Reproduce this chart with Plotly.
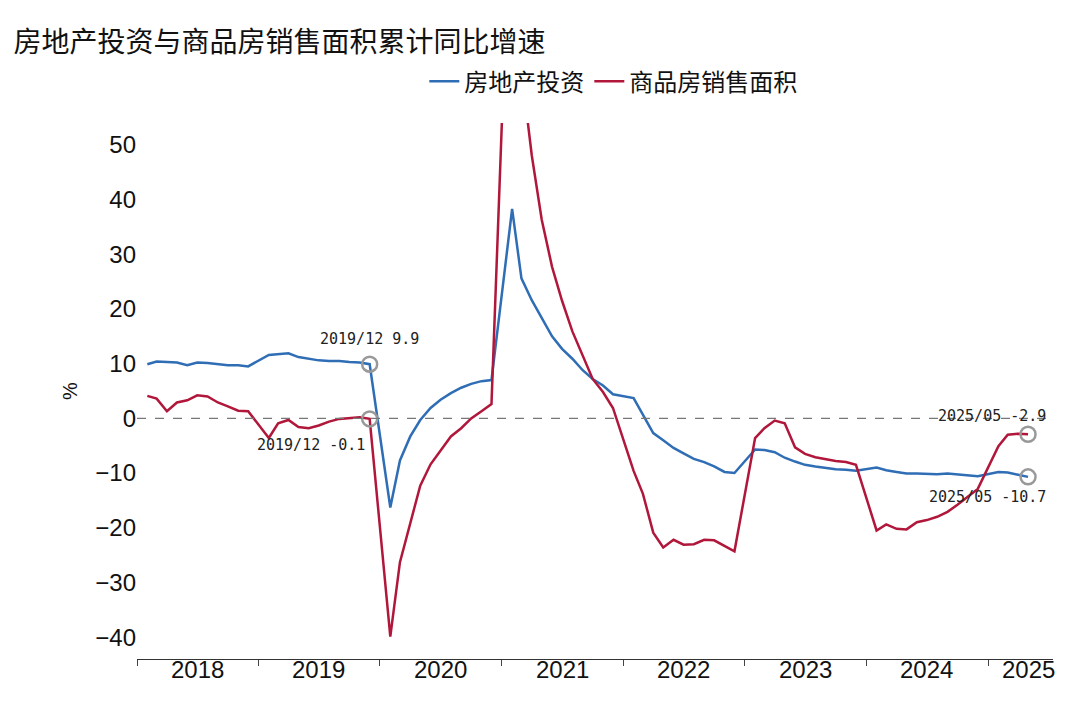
import plotly.graph_objects as go

months = [f"{y}-{m:02d}-01" for y in range(2018, 2026) for m in range(2, 13)][:7*11+4]
invest = [9.9,10.4,10.3,10.2,9.7,10.2,10.1,9.9,9.7,9.7,9.5,
          11.6,11.8,11.9,11.2,10.9,10.6,10.5,10.5,10.3,10.2,9.9,
          -16.3,-7.7,-3.3,-0.3,1.9,3.4,4.6,5.6,6.3,6.8,7.0,
          38.3,25.6,21.6,18.3,15.0,12.7,10.9,8.8,7.2,6.0,4.4,
          3.7,0.7,-2.7,-4.0,-5.4,-6.4,-7.4,-8.0,-8.8,-9.8,-10.0,
          -5.7,-5.8,-6.2,-7.2,-7.9,-8.5,-8.8,-9.1,-9.3,-9.4,-9.6,
          -9.0,-9.5,-9.8,-10.1,-10.1,-10.2,-10.2,-10.1,-10.3,-10.4,-10.6,
          -9.8,-9.9,-10.3,-10.7]
sales = [4.1,3.6,1.3,2.9,3.3,4.2,4.0,2.9,2.2,1.4,1.3,
         -3.6,-0.9,-0.3,-1.6,-1.8,-1.3,-0.6,-0.1,0.1,0.2,-0.1,
         -39.9,-26.3,-19.3,-12.3,-8.4,-5.8,-3.3,-1.8,0.0,1.3,2.6,
         104.9,63.8,48.1,36.3,27.7,21.5,15.9,11.3,7.2,4.8,1.9,
         -9.6,-13.8,-20.9,-23.6,-22.2,-23.1,-23.0,-22.2,-22.3,-23.3,-24.3,
         -3.6,-1.8,-0.4,-0.9,-5.3,-6.5,-7.1,-7.5,-7.8,-8.0,-8.5,
         -20.5,-19.4,-20.2,-20.3,-19.0,-18.6,-18.0,-17.1,-15.8,-14.3,-12.9,
         -5.1,-3.0,-2.8,-2.9]
years = ["2018","2019","2020","2021","2022","2023","2024","2025"]
year_label_pos = ["2018-07-01","2019-07-01","2020-07-01","2021-07-01","2022-07-01","2023-07-01","2024-07-01","2025-05-01"]
marks = [("2019-12-01", 9.9, "2019/12 9.9"), ("2019-12-01", -0.1, "2019/12 -0.1"),
         ("2025-05-01", -2.9, "2025/05 -2.9"), ("2025-05-01", -10.7, "2025/05 -10.7")]

BLUE = "#2f6db5"; RED = "#b0173a"
fig = go.Figure()
fig.add_trace(go.Scatter(x=months, y=invest, mode="lines", name="房地产投资", line=dict(color=BLUE, width=2.5)))
fig.add_trace(go.Scatter(x=months, y=sales, mode="lines", name="商品房销售面积", line=dict(color=RED, width=2.5)))
fig.add_trace(go.Scatter(x=[m[0] for m in marks], y=[m[1] for m in marks], mode="markers", showlegend=False,
                         marker=dict(symbol="circle-open", size=15, color="#999999", line=dict(width=2.5))))
fig.add_hline(y=0, line=dict(color="#777777", width=1.3, dash="dash"))
anno_shift = [(0, 25, "center"), (-3, -26, "right"), (20, 18, "right"), (20, -20, "right")]
for (x, y, t), (dx, dy, al) in zip(marks, anno_shift):
    fig.add_annotation(x=x, y=y, text=t, showarrow=False, xanchor=al, xshift=dx, yshift=dy,
                       font=dict(family="DejaVu Sans Mono", size=15, color="#222"))
for yl, xp in zip(years, year_label_pos):
    fig.add_annotation(x=xp, y=0, yref="paper", yshift=-26, text=yl, showarrow=False,
                       font=dict(family="Liberation Sans", size=24, color="#111"))
fig.update_layout(
    width=1080, height=701, paper_bgcolor="white", plot_bgcolor="white",
    margin=dict(l=129, r=35, t=115, b=50),
    title=dict(text="房地产投资与商品房销售面积累计同比增速", x=0.005, y=0.965, xanchor="left",
               font=dict(family="Noto Sans CJK SC", size=28, color="#111")),
    legend=dict(orientation="h", x=0.52, xanchor="center", y=1.035, yanchor="bottom",
                font=dict(family="Noto Sans CJK SC", size=24, color="#111")),
    xaxis=dict(type="date", range=["2018-01-01", "2025-07-15"], showgrid=False, showticklabels=False,
               tickvals=[f"{y}-01-01" for y in range(2018, 2026)], ticks="outside", ticklen=6,
               showline=True, linecolor="#333", linewidth=1, automargin=False),
    yaxis=dict(range=[-44, 54], tickvals=list(range(-40, 51, 10)), showgrid=False, zeroline=False,
               automargin=False,
               title=dict(text="%", standoff=12, font=dict(size=20, family="Liberation Sans", color="#111")),
               tickfont=dict(family="Liberation Sans", size=24, color="#111"), showline=False),
)
fig.write_html("out.html")
